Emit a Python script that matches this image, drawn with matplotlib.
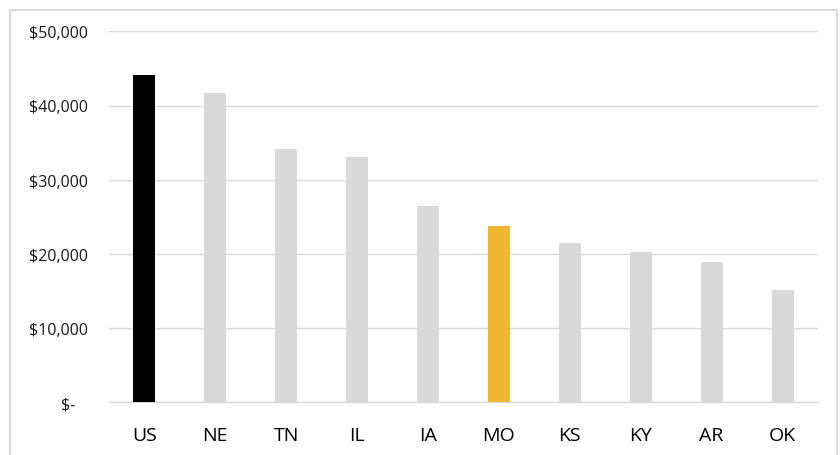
import matplotlib
matplotlib.use("Agg")
import matplotlib.pyplot as plt
from matplotlib.lines import Line2D
from matplotlib.ticker import FuncFormatter

# ----- data -----
states = ["US", "NE", "TN", "IL", "IA", "MO", "KS", "KY", "AR", "OK"]
values = [44100, 41700, 34200, 33000, 26500, 23700, 21500, 20200, 18950, 15100]
bar_colors = ["#000000", "#d9d9d9", "#d9d9d9", "#d9d9d9", "#d9d9d9",
              "#f0b830", "#d9d9d9", "#d9d9d9", "#d9d9d9", "#d9d9d9"]
y_ticks = [0, 10000, 20000, 30000, 40000, 50000]

plt.rcParams["font.family"] = ["Open Sans", "DejaVu Sans"]

W, H = 840, 456
fig = plt.figure(figsize=(W / 100, H / 100), dpi=100)
ax = fig.add_axes([109 / W, 1 - 403.3 / H, (818 - 109) / W, (403.3 - 32.3) / H])

x = range(len(states))
ax.bar(x, values, width=0.31, color=bar_colors, zorder=3)

ax.set_xlim(-0.5, len(states) - 0.5)
ax.set_ylim(0, 50000)
ax.set_yticks(y_ticks)


def money(v, pos):
    if v == 0:
        return "$-   "
    return "${:,.0f}".format(v)


ax.yaxis.set_major_formatter(FuncFormatter(money))
ax.set_xticks(list(x))
ax.set_xticklabels(states)

ax.tick_params(axis="y", length=0, pad=15, labelsize=11.5, labelcolor="#1a1a1a")
ax.tick_params(axis="x", length=0, pad=17, labelsize=14, labelcolor="#000000")

ax.grid(axis="y", color="#d9d9d9", linewidth=1, zorder=0)
for side in ["top", "right", "left"]:
    ax.spines[side].set_visible(False)
ax.spines["bottom"].set_color("#d9d9d9")
ax.spines["bottom"].set_linewidth(1)

# outer chart border (left, top, right)
bx0, bx1, by1 = 10 / W, 837 / W, 1 - 10.5 / H
border = Line2D([bx0, bx0, bx1, bx1], [-0.1, by1, by1, -0.1],
                transform=fig.transFigure, color="#d9d9d9", linewidth=1.5)
fig.add_artist(border)

fig.savefig("out.png", dpi=100)
